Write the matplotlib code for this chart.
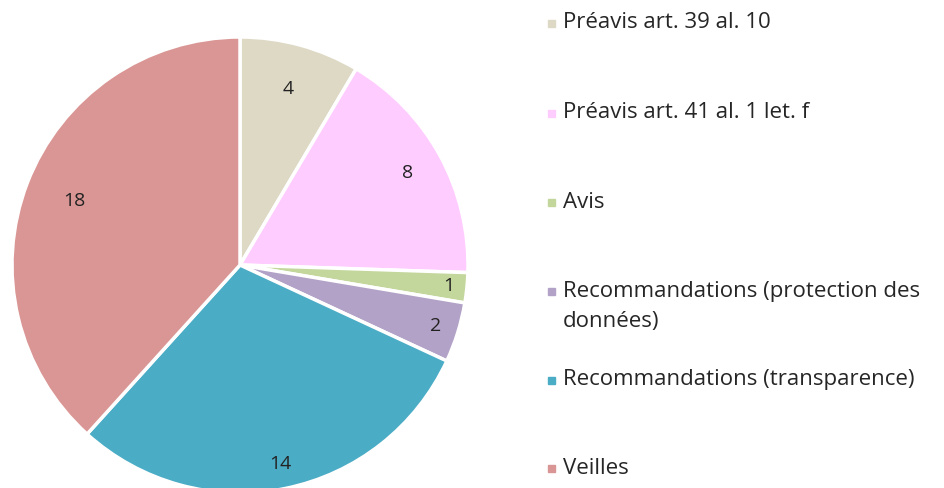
import matplotlib
matplotlib.use("Agg")
import matplotlib.pyplot as plt
import numpy as np

labels = ["Préavis art. 39 al. 10", "Préavis art. 41 al. 1 let. f", "Avis",
          "Recommandations (protection des\ndonnées)", "Recommandations (transparence)", "Veilles"]
values = [4, 8, 1, 2, 14, 18]
colors = ["#DDD9C4", "#FFCCFF", "#C3D69B", "#B3A2C7", "#4BACC6", "#D99694"]

plt.rcParams['font.family'] = ['Open Sans', 'DejaVu Sans']

W, H = 944, 488
fig = plt.figure(figsize=(W / 100, H / 100), dpi=100)

# pie axes: center (240,265) px, radius 228 px
cx, cy, r = 240, 265, 228
ax = fig.add_axes([(cx - r) / W, (H - cy - r) / H, 2 * r / W, 2 * r / H])
wedges, _ = ax.pie(values, colors=colors, startangle=90, counterclock=False,
                   radius=1, wedgeprops=dict(edgecolor="white", linewidth=2.5))
ax.set_xlim(-1, 1)
ax.set_ylim(-1, 1)
ax.set_aspect("equal")
ax.axis("off")

label_r = [0.8, 0.84, 0.92, 0.9, 0.89, 0.78]
for w, v, lr in zip(wedges, values, label_r):
    a = np.deg2rad((w.theta1 + w.theta2) / 2)
    ax.text(lr * np.cos(a), lr * np.sin(a), str(v), ha="center", va="center",
            fontsize=14, color="#222222")

# legend
leg_y = [23, 113, 202, 291, 380, 468]
for lab, col, y in zip(labels, colors, leg_y):
    fig.patches.append(plt.Rectangle((548 / W, (H - y - 4) / H), 7 / W, 7 / H,
                                     transform=fig.transFigure, color=col))
    for i, line in enumerate(lab.split("\n")):
        fig.text(563 / W, (H - y - 30 * i) / H, line, ha="left", va="center",
                 fontsize=16, color="#262626")

fig.savefig("out.png", dpi=100)
